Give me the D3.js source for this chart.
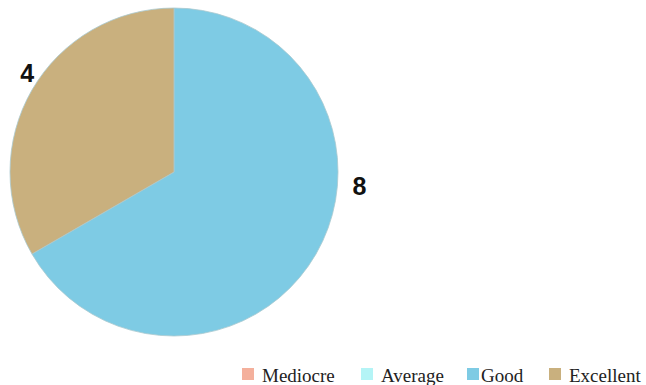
<!DOCTYPE html>
<html>
<head>
<meta charset="utf-8">
<script src="https://cdn.jsdelivr.net/npm/d3@7"></script>
<style>
  html, body { margin: 0; padding: 0; background: #fff; }
  svg { display: block; }
</style>
</head>
<body>
<div id="chart"></div>
<script>
var categories = ['Mediocre', 'Average', 'Good', 'Excellent'];
var values = [0, 0, 8, 4];
var colors = ['#f4b09c', '#b4f4f6', '#7ecbe4', '#c9b07e'];

(function drawPie() {
  var W = 646, H = 385;
  var cx = 174, cy = 172, r = 164;

  var svg = d3.select('#chart').append('svg')
    .attr('width', W).attr('height', H);

  var data = categories.map(function (c, i) {
    return { name: c, value: values[i], color: colors[i] };
  });

  var pie = d3.pie().sort(null).value(function (d) { return d.value; });
  var arcs = pie(data);
  var arc = d3.arc().innerRadius(0).outerRadius(r);

  var g = svg.append('g').attr('transform', 'translate(' + cx + ',' + cy + ')');

  g.selectAll('path.slice')
    .data(arcs.filter(function (a) { return a.value > 0; }))
    .enter().append('path')
    .attr('class', 'slice')
    .attr('d', arc)
    .attr('fill', function (a) { return a.data.color; })
    .attr('stroke', '#a9c9cf')
    .attr('stroke-width', 0.8);

  /* value labels outside the slices; angle/radius nudges keep them clear */
  var nudge = { Good: { da: -0.45, dr: 22 }, Excellent: { da: 0.07, dr: 13 } };
  function labelPos(a) {
    var n = nudge[a.data.name] || { da: 0, dr: 20 };
    var t = (a.startAngle + a.endAngle) / 2 + n.da;
    return [Math.sin(t) * (r + n.dr), -Math.cos(t) * (r + n.dr) + 9];
  }
  g.selectAll('text.val')
    .data(arcs.filter(function (a) { return a.value > 0; }))
    .enter().append('text')
    .attr('class', 'val')
    .attr('x', function (a) { return labelPos(a)[0]; })
    .attr('y', function (a) { return labelPos(a)[1]; })
    .attr('text-anchor', 'middle')
    .attr('font-family', '"Liberation Sans", Arial, sans-serif')
    .attr('font-weight', 'bold')
    .attr('font-size', 25)
    .attr('fill', '#111')
    .text(function (a) { return a.value; });

  /* legend */
  var legX = [242, 361, 467, 549];
  var leg = svg.append('g').attr('class', 'legend');
  data.forEach(function (d, i) {
    leg.append('rect')
      .attr('x', legX[i]).attr('y', 368)
      .attr('width', 12).attr('height', 12)
      .attr('fill', d.color);
    leg.append('text')
      .attr('x', legX[i] + (d.name === 'Good' ? 14 : 20)).attr('y', 382)
      .attr('font-family', '"Liberation Serif", "DejaVu Serif", serif')
      .attr('font-size', 19)
      .attr('fill', '#222')
      .text(d.name);
  });
}());
</script>
</body>
</html>
